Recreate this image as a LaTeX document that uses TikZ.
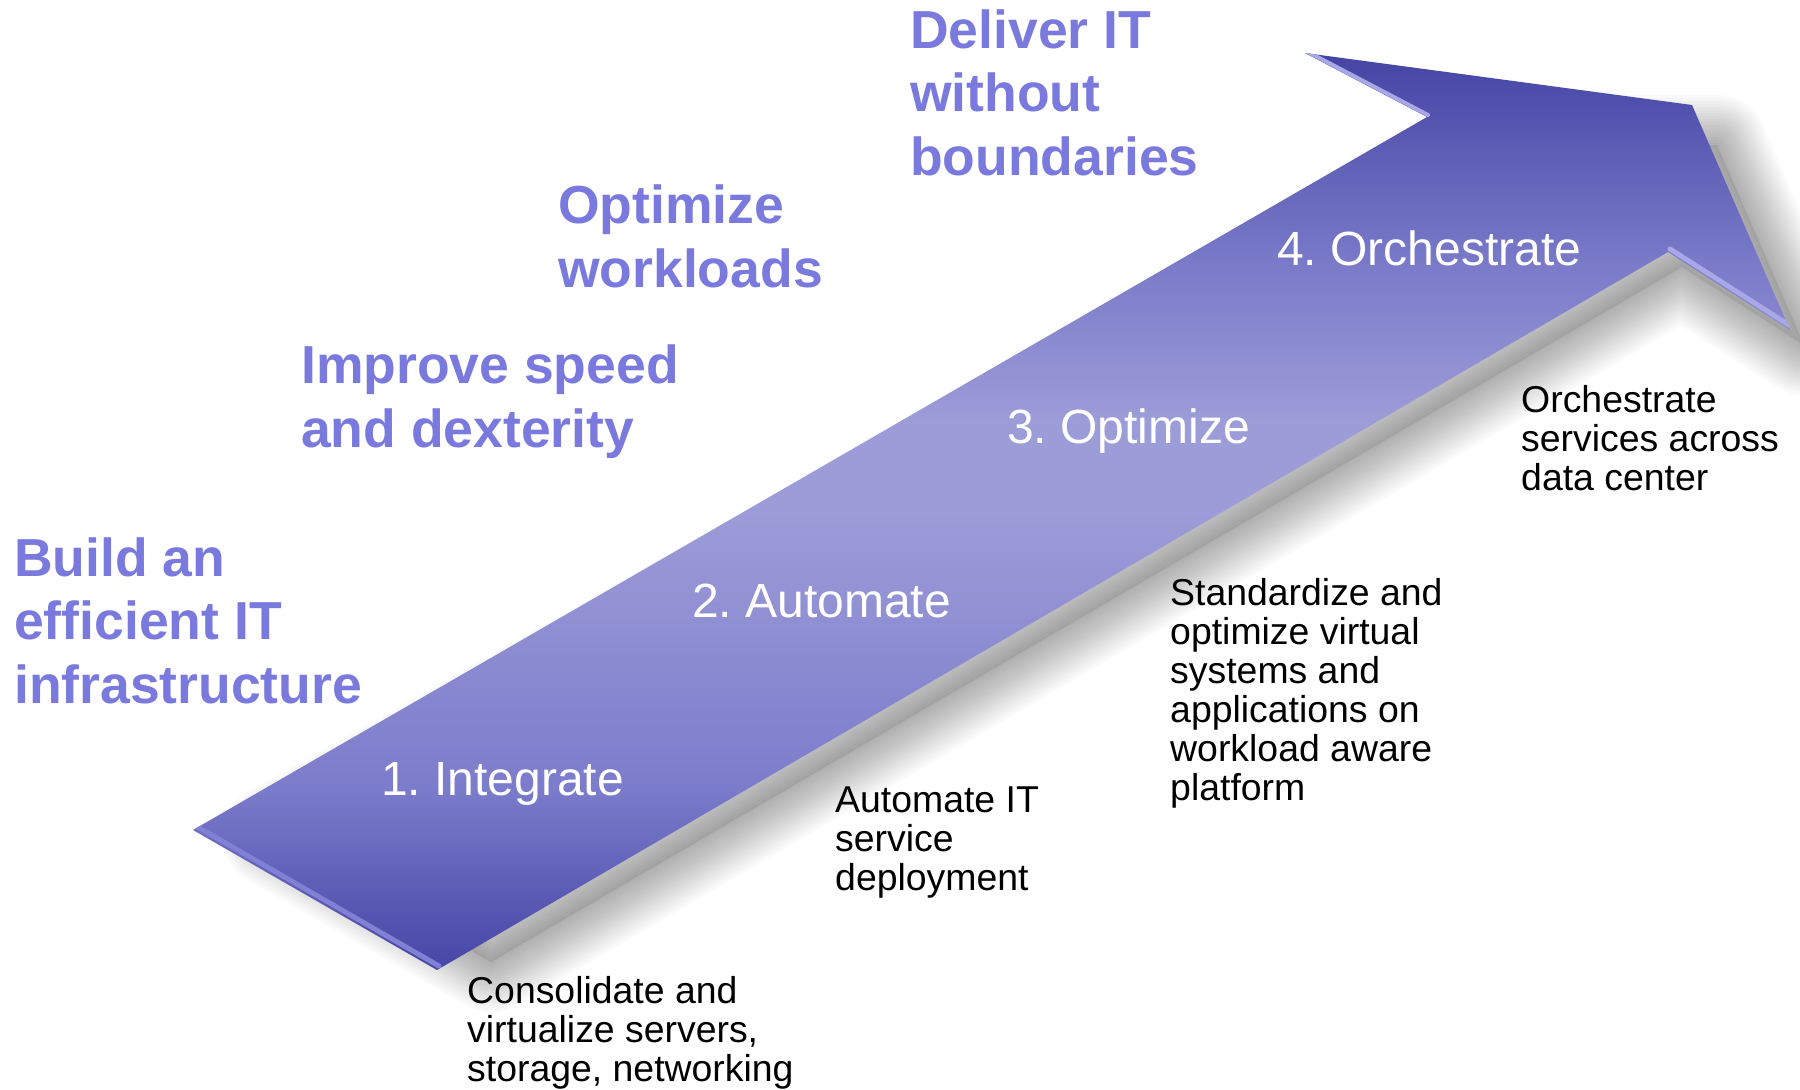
\documentclass[tikz,border=0pt]{standalone}
\usepackage{fontspec}
\setmainfont{Liberation Sans}

\definecolor{headblue}{RGB}{121,121,222}
\definecolor{sA}{RGB}{70,70,166}
\definecolor{sB}{RGB}{90,90,180}
\definecolor{sC}{RGB}{124,124,204}
\definecolor{sD}{RGB}{156,156,216}
\definecolor{sE}{RGB}{120,120,200}
\definecolor{sF}{RGB}{68,68,164}
\definecolor{tailbevel}{RGB}{128,128,212}
\definecolor{barbbevel}{RGB}{168,168,232}

% body colour: dark at the bottom and the top, light in between
\pgfdeclareverticalshading{arrowshade}{100bp}{%
  color(0bp)=(sA); color(25bp)=(sA); color(29bp)=(sB); color(35bp)=(sC);
  color(50bp)=(sD); color(55bp)=(sD); color(64bp)=(sE); color(75bp)=(sF);
  color(100bp)=(sF)}

% outline of the big arrow
\def\arrowshape{(193,830) -- (437,970) -- (1668,252) -- (1790,330)
  -- (1692,105) -- (1305,53) -- (1427,117) -- cycle}
% the same outline pulled in at the tail and the top, used for the shadow
\def\shadowshape{(258,821) -- (477,947) -- (1668,252) -- (1790,330)
  -- (1703,130) -- (1480,130) -- cycle}

% multi-line nodes sit on the baseline of their last line
\tikzset{
  head/.style={font=\fontsize{53.5}{63.5}\selectfont\bfseries, text=headblue,
    anchor=base west, inner sep=0pt, align=left},
  desc/.style={font=\fontsize{37.4}{39}\selectfont, text=black,
    anchor=base west, inner sep=0pt, align=left},
  stepl/.style={font=\fontsize{48}{57}\selectfont\frenchspacing, text=white,
    anchor=base west, inner sep=0pt},
}

\begin{document}
\begin{tikzpicture}[x=1pt,y=-1pt]
\useasboundingbox (0,0) rectangle (1800,1090);
\fill[white] (0,0) rectangle (1800,1090);

% soft drop shadow
\begin{scope}[shift={(14,15)}]
  \fill[black, opacity=0.07] \shadowshape;
  \foreach \w in {4,10,...,100}{
    \draw[line width=\w pt, line join=round, black, opacity=0.018] \shadowshape;
  }
\end{scope}

% arrow body
\shade[shading=arrowshade] \arrowshape;

% bevelled edges
\begin{scope}
  \clip \arrowshape;
  \draw[tailbevel, line width=5pt, line cap=round] (196,826) -- (439,966);
  \draw[barbbevel, line width=4pt, line cap=round] (1306,51) -- (1428,115);
  \draw[barbbevel, line width=5pt, line cap=round] (1670,249) -- (1792,327);
\end{scope}

% stage labels on the arrow
\node[stepl] (s1) at (381,795) {1. Integrate};
\node[stepl] (s2) at (692,617) {2. Automate};
\node[stepl] (s3) at (1007,443) {3. Optimize};
\node[stepl] (s4) at (1277,265) {4. Orchestrate};

% goals
\node[head] (g4) at (910,175) {Deliver IT\\without\\boundaries};
\node[head] (g3) at (558,287) {Optimize\\workloads};
\node[head] (g2) at (301,447) {Improve speed\\and dexterity};
\node[head] (g1) at (14,703) {Build an\\efficient IT\\infrastructure};

% descriptions
\node[desc] (d1) at (467,1081) {Consolidate and\\virtualize servers,\\storage, networking};
\node[desc] (d2) at (835,890) {Automate IT\\service\\deployment};
\node[desc] (d3) at (1170,800) {Standardize and\\optimize virtual\\systems and\\applications on\\workload aware\\platform};
\node[desc] (d4) at (1521,490) {Orchestrate\\services across\\data center};
\end{tikzpicture}
\end{document}
